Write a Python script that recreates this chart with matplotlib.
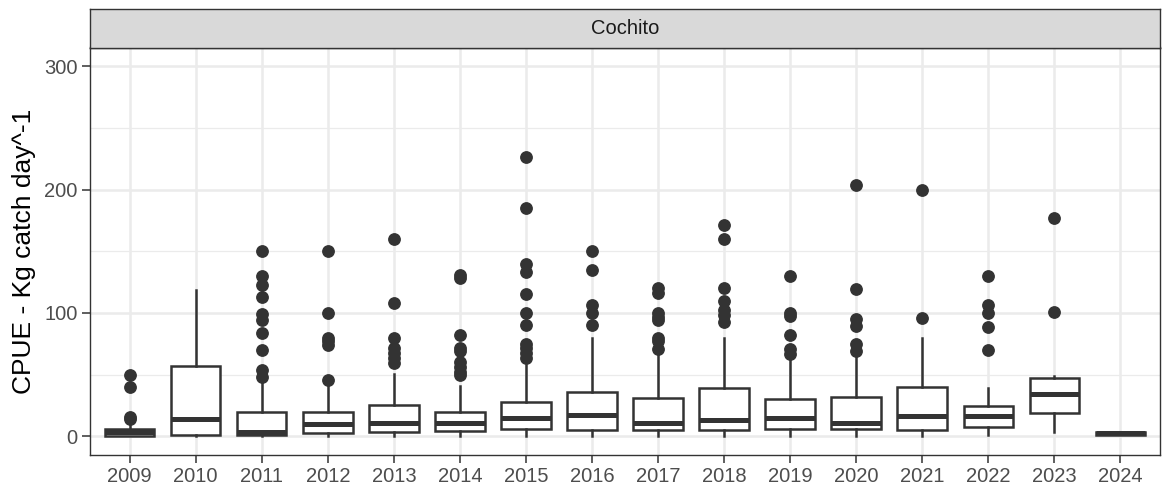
import numpy as np
import matplotlib.pyplot as plt
from matplotlib.ticker import MultipleLocator

plt.rcParams['font.family'] = ['Liberation Sans', 'DejaVu Sans']

# boxplot summaries (CPUE, kg catch per day)
years = ['2009', '2010', '2011', '2012', '2013', '2014', '2015', '2016',
         '2017', '2018', '2019', '2020', '2021', '2022', '2023', '2024']
whislo = [0, 0, 0, 0, 0, 0, 0, 0, 0, 0, 0, 0, 0, 1.4, 4, 1.5]
q1 = [0.5, 1.4, 1.4, 2.7, 3.5, 4.6, 6.2, 5.4, 5.4, 5.4, 6.2, 6.2, 4.9, 7.3, 19.4, 1.5]
med = [3.5, 14, 3.5, 10, 10.8, 11.3, 14.9, 17.5, 11.3, 13.5, 14.9, 10.8, 16.2, 16.2, 34.5, 3]
q3 = [6, 57, 19.7, 19.7, 25.6, 19.7, 28.3, 36.4, 31.5, 39, 30.5, 31.8, 39.9, 25, 47.7, 4]
whishi = [10, 119, 45, 41, 50.7, 41, 58, 79.5, 69, 79.5, 64.7, 68.7, 79.5, 39, 49, 4]
fliers = [
    [50, 40, 16, 14.5],
    [],
    [150, 130, 123, 113, 99, 94, 84, 70, 54, 48.5],
    [150, 100, 80, 77, 74, 46],
    [160, 108, 80, 72, 67.5, 63.5, 59.5],
    [131, 128.5, 82, 72, 69, 60.5, 56.5, 52.5, 49.5],
    [226, 185, 140, 133, 115, 100, 90, 75, 71.5, 67.5, 63.5],
    [150, 135, 106.5, 100, 90],
    [120, 116.5, 100, 97, 94, 80, 77, 71],
    [171, 160, 120, 110, 102.5, 98, 93],
    [130, 100, 97.5, 82, 71, 67],
    [203.5, 119.5, 95.5, 89.5, 75, 69.5],
    [200, 96],
    [130, 106.5, 100, 89, 70],
    [177, 101],
    [],
]

stats = []
for i in range(len(years)):
    stats.append(dict(label=years[i], whislo=whislo[i], q1=q1[i], med=med[i],
                      q3=q3[i], whishi=whishi[i], fliers=fliers[i]))

dark = '#333333'
fig = plt.figure(figsize=(11.65, 4.91), dpi=100)
ax = fig.add_axes([90 / 1165, 1 - 455 / 491, 1070 / 1165, (455 - 47.5) / 491])

pos = np.arange(1, len(years) + 1)
ax.bxp(stats, positions=pos, widths=0.75, patch_artist=True, showcaps=False,
       boxprops=dict(facecolor='white', edgecolor=dark, linewidth=1.8),
       whiskerprops=dict(color=dark, linewidth=1.8),
       medianprops=dict(color=dark, linewidth=3.6, solid_capstyle='butt'),
       flierprops=dict(marker='o', markerfacecolor=dark, markeredgecolor=dark,
                       markersize=8.2, linestyle='none'),
       zorder=3)

ax.set_xlim(0.4, len(years) + 0.6)
ax.set_ylim(-15, 315)
ax.set_xticks(pos)
ax.set_xticklabels(years)
ax.yaxis.set_major_locator(MultipleLocator(100))
ax.yaxis.set_minor_locator(MultipleLocator(50))

ax.grid(which='major', color='#EBEBEB', linewidth=1.8, zorder=0)
ax.grid(which='minor', axis='y', color='#EBEBEB', linewidth=0.9, zorder=0)
ax.set_axisbelow(True)
for s in ax.spines.values():
    s.set_color(dark)
    s.set_linewidth(1.0)
ax.tick_params(which='major', length=5.5, width=1.1, color=dark,
               labelsize=14.5, labelcolor='#4D4D4D', pad=3.5)
ax.tick_params(which='minor', length=0)
ax.set_ylabel('CPUE - Kg catch day^-1', fontsize=19, color='black', labelpad=6)

# facet strip
strip = fig.add_axes([90 / 1165, 1 - 47.5 / 491, 1070 / 1165, 39 / 491])
strip.set_facecolor('#D9D9D9')
strip.set_xticks([])
strip.set_yticks([])
for s in strip.spines.values():
    s.set_color(dark)
    s.set_linewidth(1.0)
strip.text(0.5, 0.5, 'Cochito', ha='center', va='center', fontsize=14.5,
           color='#1A1A1A', transform=strip.transAxes)

fig.savefig('out.png', dpi=100)
